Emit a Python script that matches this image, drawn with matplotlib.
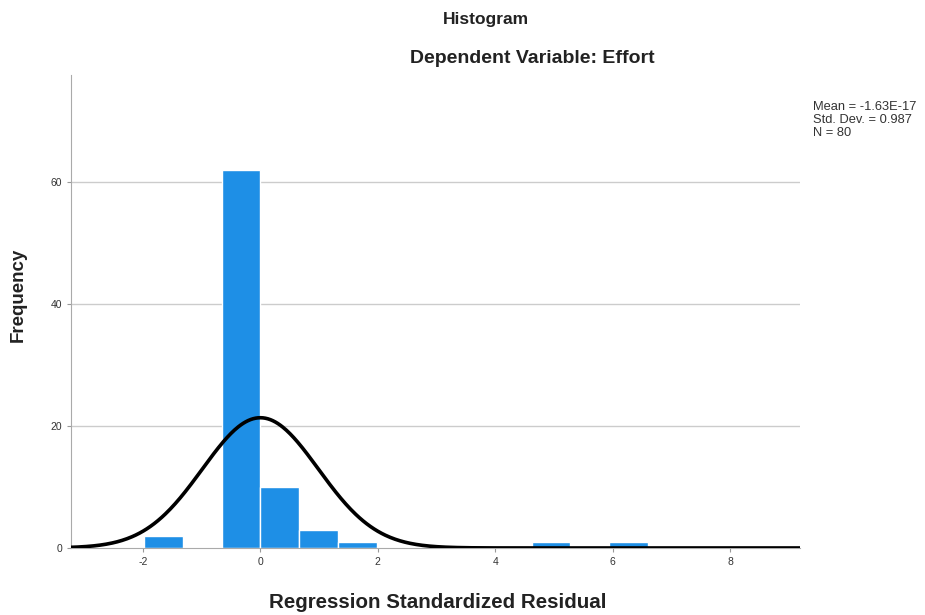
import numpy as np
import matplotlib
matplotlib.use("Agg")
import matplotlib.pyplot as plt

plt.rcParams['font.family'] = ['Liberation Sans', 'DejaVu Sans']
plt.rcParams['axes.unicode_minus'] = False

# histogram bins (left edges) and counts
bin_width = 0.66
bin_left = [-1.98, -0.66, 0.0, 0.66, 1.32, 4.62, 5.94]
counts = [2, 62, 10, 3, 1, 1, 1]

mean_val = 0.0
std_val = 0.987
n_obs = 80
stats_text = "Mean = -1.63E-17\nStd. Dev. = 0.987\nN = 80"

x_ticks = [-2, 0, 2, 4, 6, 8]
y_ticks = [0, 20, 40, 60]

fig = plt.figure(figsize=(9.25, 6.15), dpi=100)
ax = fig.add_axes([0.077, 0.109, 0.788, 0.769])

ax.bar(bin_left, counts, width=bin_width, align="edge",
       color="#1E8FE6", edgecolor="white", linewidth=1, zorder=2)

# normal curve scaled to the histogram
xs = np.linspace(-3.3, 9.3, 600)
dens = np.exp(-0.5 * ((xs - mean_val) / std_val) ** 2) / (std_val * np.sqrt(2 * np.pi))
ax.plot(xs, dens * n_obs * bin_width, color="black", linewidth=2.6, zorder=3)

ax.set_xlim(-3.22, 9.19)
ax.set_ylim(0, 77.5)
ax.set_xticks(x_ticks)
ax.set_yticks(y_ticks)
ax.tick_params(labelsize=7.5, color="#999999", length=3, labelcolor="#333333")

for y in y_ticks[1:]:
    ax.axhline(y, color="#cccccc", linewidth=1, zorder=1)

for s in ["top", "right"]:
    ax.spines[s].set_visible(False)
for s in ["left", "bottom"]:
    ax.spines[s].set_color("#aaaaaa")

fig.text(0.473, 0.021, "Regression Standardized Residual", ha="center", va="center",
         fontsize=14.8, fontweight="bold", color="#222222")
fig.text(0.02, 0.52, "Frequency", ha="center", va="center", rotation=90,
         fontsize=13.5, fontweight="bold", color="#222222")

fig.text(0.525, 0.968, "Histogram", ha="center", va="center", fontsize=12.5,
         fontweight="bold", color="#222222")
fig.text(0.576, 0.905, "Dependent Variable: Effort", ha="center", va="center",
         fontsize=14, fontweight="bold", color="#222222")
fig.text(0.879, 0.835, stats_text, ha="left", va="top", fontsize=9.3,
         linespacing=1.1, color="#333333")

fig.savefig("out.png", dpi=100)
